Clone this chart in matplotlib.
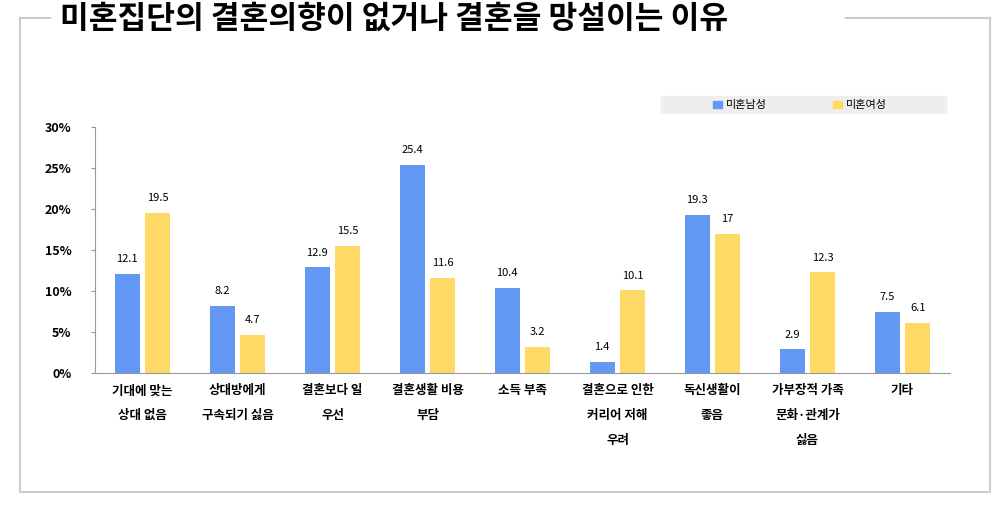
import matplotlib.pyplot as plt
import numpy as np
from matplotlib.patches import Rectangle
from matplotlib.lines import Line2D

plt.rcParams["font.family"] = "Noto Sans CJK KR"

categories = ["기대에 맞는\n상대 없음", "상대방에게\n구속되기 싫음", "결혼보다 일\n우선", "결혼생활 비용\n부담",
              "소득 부족", "결혼으로 인한\n커리어 저해\n우려", "독신생활이\n좋음", "가부장적 가족\n문화·관계가\n싫음", "기타"]
male = [12.1, 8.2, 12.9, 25.4, 10.4, 1.4, 19.3, 2.9, 7.5]
female = [19.5, 4.7, 15.5, 11.6, 3.2, 10.1, 17, 12.3, 6.1]
yticks = [0, 5, 10, 15, 20, 25, 30]

blue = "#6399F5"
yellow = "#FFD966"

fig = plt.figure(figsize=(10.01, 5.05), dpi=100)
ax = fig.add_axes([0.095, 0.261, 0.854, 0.487])

x = np.arange(len(categories))
w = 0.26
ax.bar(x - 0.16, male, w, color=blue)
ax.bar(x + 0.16, female, w, color=yellow)
for xi, m, f in zip(x, male, female):
    ax.text(xi - 0.16, m + 1.2, f"{m:g}", ha="center", va="bottom", fontsize=8)
    ax.text(xi + 0.16, f + 1.2, f"{f:g}", ha="center", va="bottom", fontsize=8)

ax.set_xlim(-0.5, len(categories) - 0.5)
ax.set_ylim(0, 30)
ax.set_yticks(yticks)
ax.set_yticklabels([f"{t}%" for t in yticks], fontsize=9, fontweight="bold")
ax.set_xticks(x)
ax.set_xticklabels(categories, fontsize=9, fontweight="bold", linespacing=2.2, va="top")
ax.tick_params(axis="x", length=0, pad=8)
ax.tick_params(axis="y", length=3, color="#999999", pad=14)
for s in ["top", "right"]:
    ax.spines[s].set_visible(False)
ax.spines["left"].set_color("#999999")
ax.spines["bottom"].set_color("#999999")

# frame and title
fig.add_artist(Line2D([0.02, 0.02, 0.989, 0.989], [0.965, 0.025, 0.025, 0.965], color="#cccccc", lw=1.5))
fig.add_artist(Line2D([0.02, 0.05], [0.965, 0.965], color="#cccccc", lw=1.5))
fig.add_artist(Line2D([0.845, 0.989], [0.965, 0.965], color="#cccccc", lw=1.5))
fig.text(0.06, 0.962, "미혼집단의 결혼의향이 없거나 결혼을 망설이는 이유", fontsize=22.5, fontweight="bold",
         va="center", ha="left")

# legend
fig.add_artist(Rectangle((0.66, 0.776), 0.285, 0.033, color="#eeeeee", transform=fig.transFigure))
fig.add_artist(Rectangle((0.712, 0.786), 0.009, 0.014, color=blue, transform=fig.transFigure))
fig.text(0.725, 0.793, "미혼남성", fontsize=8, va="center")
fig.add_artist(Rectangle((0.832, 0.786), 0.009, 0.014, color=yellow, transform=fig.transFigure))
fig.text(0.845, 0.793, "미혼여성", fontsize=8, va="center")

fig.savefig("out.png", dpi=100)
